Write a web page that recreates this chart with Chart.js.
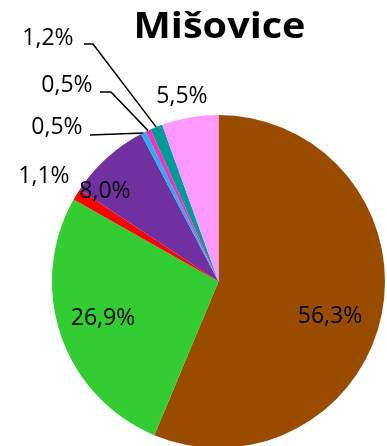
<!DOCTYPE html>
<html>
<head>
<meta charset="utf-8">
<script src="https://cdn.jsdelivr.net/npm/chart.js@4"></script>
<style>
    html, body { margin: 0; padding: 0; background: #fff; overflow: hidden; }
    #wrap { width: 387px; height: 460px; }
</style>
</head>
<body>
<div id="wrap"><canvas id="pieChart" width="387" height="460"></canvas></div>
<script>
// data, clockwise from 12 o'clock
const titleText = 'Mišovice';
const categories = ['A', 'B', 'C', 'D', 'E', 'F', 'G', 'H'];
const shares = [56.3, 26.9, 1.1, 8.0, 0.5, 0.5, 1.2, 5.5];
const sliceColors = ['#994C00', '#33CC33', '#FF0000', '#7030A0', '#1EB4F0', '#FF2EC0', '#009999', '#FF99FF'];

// label placement, offsets from the pie centre (text centre, optional leader elbow points)
const labelLayout = [
    { dx: 111.5, dy: 34.5 },
    { dx: -115.5, dy: 36.5 },
    { dx: -174.5, dy: -105.5 },
    { dx: -113.5, dy: -90.5 },
    { dx: -161.5, dy: -154.5, leader: [[-128.5, -146.5]] },
    { dx: -151.5, dy: -196.5, leader: [[-118.5, -189.5], [-107.5, -189.5]] },
    { dx: -170.5, dy: -243.5, leader: [[-134.5, -237.5], [-125.5, -237.5]] },
    { dx: -36.5, dy: -185.5 }
];

const fmt = v => v.toFixed(1).replace('.', ',') + '%';

const labelPlugin = {
    id: 'sliceLabels',
    afterDatasetsDraw(chart) {
        const ctx = chart.ctx;
        const meta = chart.getDatasetMeta(0);
        ctx.save();
        meta.data.forEach((arc, i) => {
            const p = arc.getProps(['x', 'y', 'startAngle', 'endAngle', 'outerRadius'], true);
            const lay = labelLayout[i];
            if (lay.leader) {
                const mid = (p.startAngle + p.endAngle) / 2;
                ctx.beginPath();
                ctx.moveTo(p.x + lay.leader[0][0], p.y + lay.leader[0][1]);
                lay.leader.slice(1).forEach(pt => ctx.lineTo(p.x + pt[0], p.y + pt[1]));
                ctx.lineTo(p.x + Math.cos(mid) * p.outerRadius, p.y + Math.sin(mid) * p.outerRadius);
                ctx.strokeStyle = '#000';
                ctx.lineWidth = 1.5;
                ctx.stroke();
            }
            ctx.fillStyle = '#000';
            ctx.font = '23px "Open Sans"';
            ctx.textAlign = 'center';
            ctx.textBaseline = 'middle';
            ctx.fillText(fmt(shares[i]), p.x + lay.dx, p.y + lay.dy);
        });

        // title, stretched a bit to match the wider original
        ctx.font = 'bold 36px "Open Sans"';
        ctx.textAlign = 'center';
        ctx.textBaseline = 'alphabetic';
        ctx.translate(219.5, 38);
        ctx.scale(1.1, 1);
        ctx.fillText(titleText, 0, 0);
        ctx.restore();
    }
};

new Chart(document.getElementById('pieChart'), {
    type: 'pie',
    data: {
        labels: categories,
        datasets: [{
            data: shares,
            backgroundColor: sliceColors,
            borderWidth: 0
        }]
    },
    options: {
        responsive: false,
        animation: false,
        layout: { padding: { left: 52, right: 2, top: 115, bottom: 12 } },
        plugins: {
            legend: { display: false },
            tooltip: { enabled: false }
        }
    },
    plugins: [labelPlugin]
});
</script>
</body>
</html>
